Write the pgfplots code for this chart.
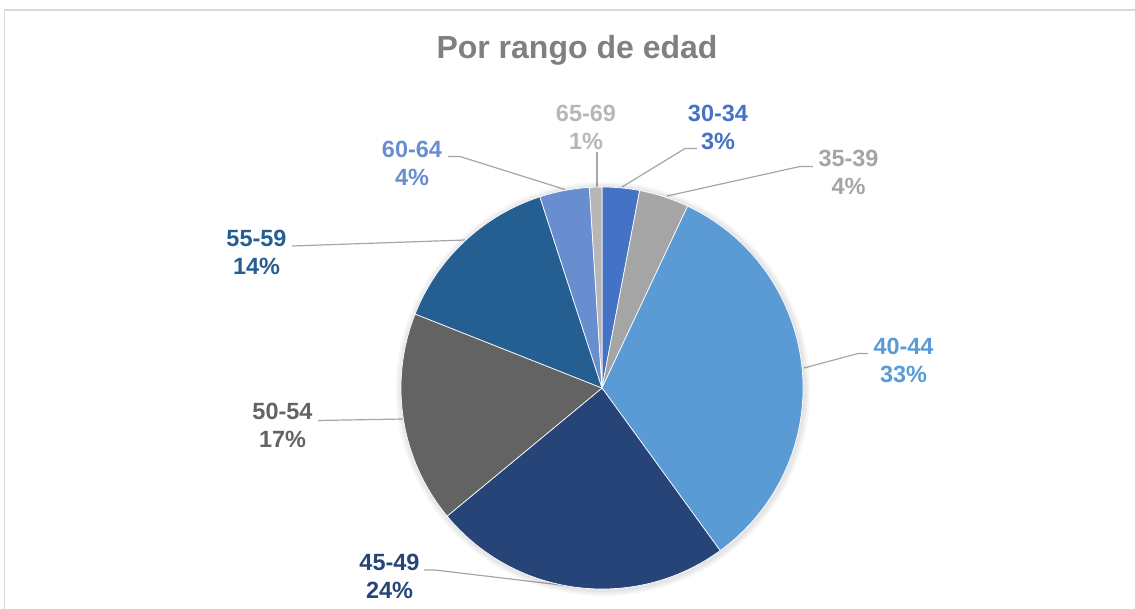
\documentclass[border=0pt]{standalone}
\usepackage{fontspec}
\setmainfont{Liberation Sans}
\usepackage{pgfplots}
\usepackage{pgfplotstable}
\pgfplotsset{compat=1.18}
\definecolor{sA}{HTML}{4472C4}
\definecolor{sB}{HTML}{A5A5A5}
\definecolor{sC}{HTML}{5B9BD5}
\definecolor{sD}{HTML}{264478}
\definecolor{sE}{HTML}{636363}
\definecolor{sF}{HTML}{255E91}
\definecolor{sG}{HTML}{698ED0}
\definecolor{sH}{HTML}{B7B7B7}
\definecolor{leader}{HTML}{A6A6A6}
\definecolor{frame}{HTML}{D9D9D9}
\definecolor{titlegray}{HTML}{808080}

% age group, share in %, colour, label centre (px)
\pgfplotstableread{
label value col lx ly
30-34 3 sA 718 127.5
35-39 4 sB 848.5 172.5
40-44 33 sC 903.5 360
45-49 24 sD 389.5 576.5
50-54 17 sE 282.5 425
55-59 14 sF 256.5 252
60-64 4 sG 412 163
65-69 1 sH 586 127.5
}\agetable

\begin{document}
\begin{tikzpicture}
\begin{axis}[
  width=851.25pt, height=456.75pt, scale only axis,
  xmin=0, xmax=1135, ymin=0, ymax=609, y dir=reverse,
  hide axis, clip=false,
]
  % fixed canvas and chart frame
  \path[use as bounding box] (axis cs:0,0) rectangle (axis cs:1135,609);
  \draw[frame, line width=1pt] (axis cs:4.5,609) -- (axis cs:4.5,10) -- (axis cs:1135,10);
  \node[text=titlegray, font=\fontsize{24}{28}\selectfont\bfseries] at (axis cs:577,50) {Por rango de edad};

  % leader lines
  \draw[leader, line width=0.9pt] (axis cs:597,152) -- (axis cs:597,187);
  \draw[leader, line width=0.9pt] (axis cs:697,148.5) -- (axis cs:685,148.5) -- (axis cs:622,187);
  \draw[leader, line width=0.9pt] (axis cs:813,166.5) -- (axis cs:800,166.5) -- (axis cs:667,196);
  \draw[leader, line width=0.9pt] (axis cs:868,353.5) -- (axis cs:858,353.5) -- (axis cs:804,368);
  \draw[leader, line width=0.9pt] (axis cs:424,570) -- (axis cs:435,570) -- (axis cs:578,587);
  \draw[leader, line width=0.9pt] (axis cs:318,420.5) -- (axis cs:403,419);
  \draw[leader, line width=0.9pt] (axis cs:292,246) -- (axis cs:465,240);
  \draw[leader, line width=0.9pt] (axis cs:448,156.5) -- (axis cs:460,156.5) -- (axis cs:565,189.5);

  \pgfplotsextra{
    % soft shadow
    \foreach \k in {6,4,2}{
      \fill[black, opacity=0.035] (axis cs:603,389) circle[radius=150.75pt+\k*0.75pt];
    }
    \pgfplotstablegetrowsof{\agetable}
    \pgfmathtruncatemacro\lastrow{\pgfplotsretval-1}
    \gdef\cum{0}
    \foreach \i in {0,...,\lastrow}{
      \pgfplotstablegetelem{\i}{value}\of\agetable \let\sval\pgfplotsretval
      \pgfplotstablegetelem{\i}{col}\of\agetable \let\scol\pgfplotsretval
      \pgfplotstablegetelem{\i}{label}\of\agetable \let\slab\pgfplotsretval
      \pgfplotstablegetelem{\i}{lx}\of\agetable \let\slx\pgfplotsretval
      \pgfplotstablegetelem{\i}{ly}\of\agetable \let\sly\pgfplotsretval
      \pgfmathsetmacro\sa{90-3.6*\cum}
      \pgfmathsetmacro\ea{90-3.6*(\cum+\sval)}
      \fill[\scol, draw=white, line width=0.5pt] (axis cs:602,388) -- ++(\sa:150.75pt)
        arc[start angle=\sa, end angle=\ea, radius=150.75pt] -- cycle;
      \node[text=\scol, align=center, inner sep=0pt,
        font=\fontsize{17.6}{21}\selectfont\bfseries] at (axis cs:\slx,\sly) {\slab\\\sval\%};
      \pgfmathsetmacro\newcum{\cum+\sval}
      \xdef\cum{\newcum}
    }
  }
\end{axis}
\end{tikzpicture}
\end{document}
